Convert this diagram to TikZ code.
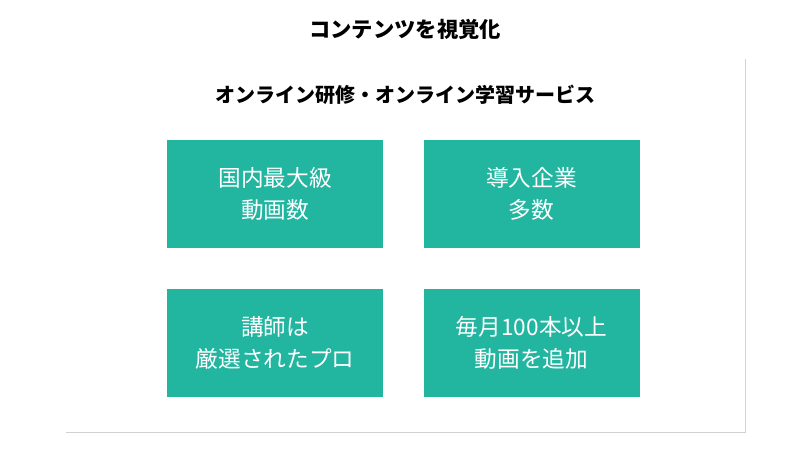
\documentclass[tikz,border=0pt]{standalone}
\usepackage{fontspec}
\setmainfont{Noto Sans CJK JP}
\usetikzlibrary{positioning,shadows}
\definecolor{teal}{HTML}{22B5A0}
\tikzset{
  featbox/.style={fill=teal,text=white,minimum width=162pt,minimum height=81pt,
    align=center,font=\fontsize{17}{24}\selectfont,inner sep=0pt},
  panel/.style={fill=white,drop shadow={shadow xshift=1pt,shadow yshift=-1pt,opacity=.35}}
}
\begin{document}
\begin{tikzpicture}[x=0.75pt,y=-0.75pt]
    \useasboundingbox[fill=white] (0,0) rectangle (810,453);
    \node[font=\fontsize{16}{20}\selectfont\bfseries] (title) at (405,29) {コンテンツを視覚化};
    \draw[panel,draw=none] (65,58) rectangle (745,432);
    \node[font=\fontsize{15}{18}\selectfont\bfseries] (sub) at (405,95) {オンライン研修・オンライン学習サービス};
    \node[featbox] (size) at (275,194) {国内最大級\\動画数};
    \node[featbox] (corp) at (531.5,194) {導入企業\\多数};
    \node[featbox] (lect) at (275,343) {講師は\\厳選されたプロ};
    \node[featbox] (month) at (531.5,343) {毎月100本以上\\動画を追加};
\end{tikzpicture}
\end{document}
